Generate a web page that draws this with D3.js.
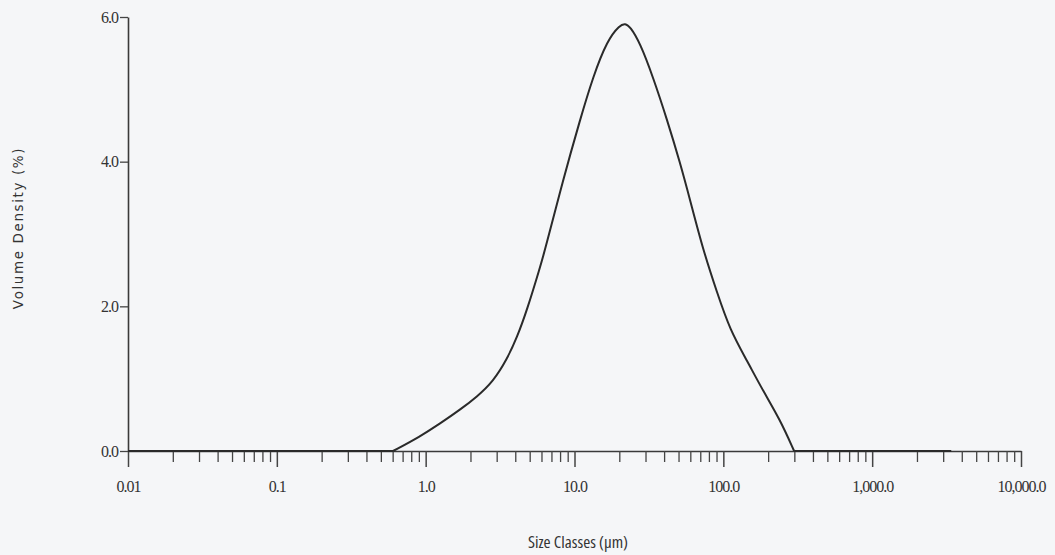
<!DOCTYPE html>
<html>
    <head>
        <style>
            body { margin: 0; background: #f5f6f8; }
            svg { display: block; }
        </style>
    </head>
    <body>
        <svg></svg>

        <script src="https://d3js.org/d3.v7.min.js"></script>

        <script>
            // size class (µm) and volume density (%)
            const sizes = [0.01, 0.604, 0.917, 1.25, 1.70, 2.21, 2.84, 3.52, 4.11, 4.80, 5.87, 6.34, 8.38, 10.9, 13.3, 16.6,
                           20.2, 21.9, 23.6, 27.6, 33.7, 41.9, 51.3, 59.8, 73.1, 90.8, 111, 145, 185, 241, 299, 3400];
            const density = [0, 0, 0.20, 0.38, 0.57, 0.75, 0.96, 1.27, 1.57, 1.95, 2.54, 2.78, 3.75, 4.58, 5.17, 5.68,
                             5.89, 5.91, 5.87, 5.64, 5.17, 4.58, 3.98, 3.47, 2.78, 2.19, 1.67, 1.24, 0.83, 0.43, 0, 0];

            const xMajor = [0.01, 0.1, 1, 10, 100, 1000, 10000];
            const xLabels = ["0.01", "0.1", "1.0", "10.0", "100.0", "1,000.0", "10,000.0"];
            const yTicks = [0, 2, 4, 6];
            const yLabels = ["0.0", "2.0", "4.0", "6.0"];

            const width = 1055,
                height = 555;

            const svg = d3.select("svg")
                        .attr("width", width)
                        .attr("height", height);

            const x = d3.scaleLog()
                        .domain([0.01, 10000])
                        .range([128, 1021]);

            const y = d3.scaleLinear()
                        .domain([0, 6])
                        .range([451, 17]);

            // minor ticks 2..9 in every decade
            const xMinor = [];
            xMajor.slice(0, -1).forEach(function(d) {
                for (let k = 2; k <= 9; k++) xMinor.push(d * k);
            });

            const tickFont = "'Liberation Serif', 'Times New Roman', serif";

            svg.append("g")
                .attr("transform", "translate(0," + y(0) + ")")
                .call(d3.axisBottom(x).tickValues(xMinor).tickSize(11).tickSizeOuter(0).tickFormat(""))
                .call(function(g) {
                    g.select(".domain").attr("stroke", "#3a3a3a").attr("stroke-width", 1.6);
                    g.selectAll(".tick line").attr("stroke", "#444").attr("stroke-width", 1.3);
                });

            svg.append("g")
                .attr("transform", "translate(0," + y(0) + ")")
                .call(d3.axisBottom(x).tickValues(xMajor).tickSize(16).tickPadding(14)
                      .tickFormat(function(d, i) { return xLabels[i]; }))
                .call(function(g) {
                    g.select(".domain").remove();
                    g.selectAll(".tick line").attr("stroke", "#444").attr("stroke-width", 1.5);
                    g.selectAll(".tick text")
                        .attr("fill", "#333")
                        .style("font-family", tickFont)
                        .style("font-size", "16px")
                        .style("letter-spacing", "-1px");
                });

            svg.append("g")
                .attr("transform", "translate(" + x(0.01) + ",0)")
                .call(d3.axisLeft(y).tickValues(yTicks).tickSize(8).tickSizeOuter(0).tickPadding(2)
                      .tickFormat(function(d, i) { return yLabels[i]; }))
                .call(function(g) {
                    g.select(".domain").attr("stroke", "#3a3a3a").attr("stroke-width", 1.6);
                    g.selectAll(".tick line").attr("stroke", "#444").attr("stroke-width", 1.3);
                    g.selectAll(".tick text")
                        .attr("fill", "#333")
                        .style("font-family", tickFont)
                        .style("font-size", "16px")
                        .style("letter-spacing", "-1px");
                });

            // Curve: flat zero stretches drawn straight, the peak smoothed
            const pts = sizes.map(function(d, i) { return [d, density[i]]; });
            const first = density.findIndex(function(d) { return d > 0; }) - 1;
            const last = density.length - 1 - density.slice().reverse().findIndex(function(d) { return d > 0; }) + 1;

            const flat = d3.line()
                        .x(function(d) { return x(d[0]); })
                        .y(function(d) { return y(d[1]); });

            const smooth = d3.line()
                        .x(function(d) { return x(d[0]); })
                        .y(function(d) { return y(d[1]); })
                        .curve(d3.curveBasis);

            [pts.slice(0, first + 1), pts.slice(last)].forEach(function(seg) {
                svg.append("path")
                    .attr("d", flat(seg))
                    .attr("fill", "none")
                    .attr("stroke", "#2a2a2a")
                    .attr("stroke-width", 2);
            });

            svg.append("path")
                .attr("d", smooth(pts.slice(first, last + 1)))
                .attr("fill", "none")
                .attr("stroke", "#2a2a2a")
                .attr("stroke-width", 2)
                .attr("stroke-linejoin", "round");

            svg.append("text")
                .attr("x", 578)
                .attr("y", 548)
                .attr("text-anchor", "middle")
                .attr("fill", "#333")
                .style("font-family", "'Liberation Sans Narrow', 'Open Sans', sans-serif")
                .style("font-stretch", "condensed")
                .style("font-size", "17px")
                .text("Size Classes (µm)");

            svg.append("text")
                .attr("transform", "translate(23,228) rotate(-90)")
                .attr("text-anchor", "middle")
                .attr("fill", "#333")
                .style("font-family", "'DejaVu Sans', sans-serif")
                .style("font-size", "13.5px")
                .style("letter-spacing", "1.6px")
                .text("Volume Density (%)");
        </script>
    </body>
</html>
